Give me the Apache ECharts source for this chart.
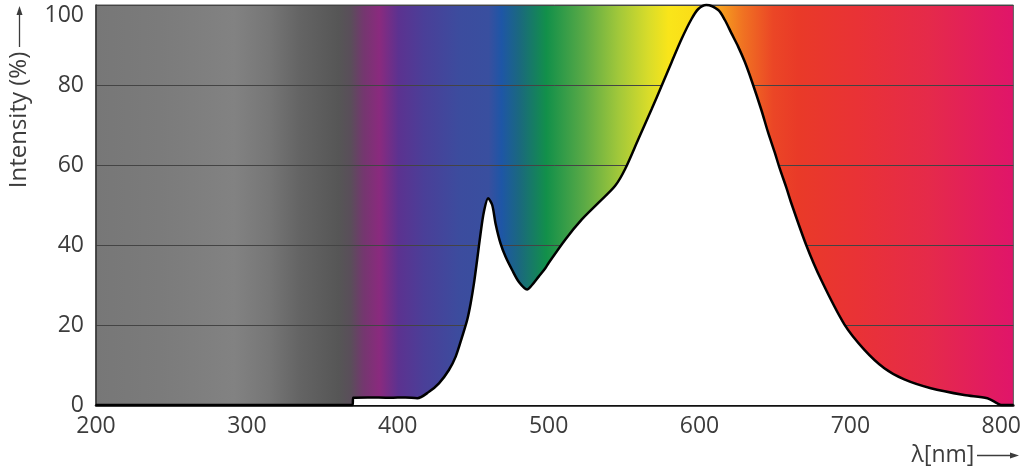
<!DOCTYPE html>
<html>
<head>
<meta charset="utf-8">
<script src="https://cdn.jsdelivr.net/npm/echarts@6/dist/echarts.min.js"></script>
<style>
html,body{margin:0;padding:0;background:#fff;}
#chart{width:1024px;height:469px;}
</style>
</head>
<body>
<div id="chart"></div>
<script>
// wavelength (nm)
const wavelengths = [200, 370, 370.5, 380, 395, 405, 413.0, 420.7, 427.3, 433.9, 438.4, 442.7, 446.0, 448.3, 450.5, 452.6, 454.9, 457.1, 459.9, 462.6, 464.8, 468.1, 471.4, 475.8, 480.2, 485.7, 489.0, 493.4, 497.8, 500.0, 511.1, 522.0, 533.1, 544.1, 550.7, 559.5, 568.3, 574.9, 581.5, 588.1, 594.7, 599.2, 604.5, 612.4, 616.8, 621.2, 625.6, 630.0, 634.4, 641.0, 645.4, 649.8, 653.1, 657.5, 660.8, 670.7, 680.6, 696.1, 709.3, 722.5, 735.7, 753.3, 775.4, 790.8, 797.4, 800, 808];
// relative intensity (%)
const intensity = [0, 0, 1.8, 1.9, 1.8, 1.9, 1.7, 3.3, 5.4, 8.75, 12.1, 17.1, 21.25, 25.4, 30.4, 36.25, 42.9, 48.3, 51.7, 50, 45.4, 40.4, 37.1, 33.75, 30.8, 28.9, 30, 32.1, 34.2, 35.5, 41.4, 46.4, 50.6, 54.8, 59, 66.5, 74, 79.8, 85.7, 91.5, 96.5, 99, 100, 98.75, 96.25, 92.9, 89.6, 85.8, 81.25, 73.75, 68.2, 63.2, 59.2, 54.4, 50.5, 40, 31.3, 20.1, 13.8, 9.2, 6.4, 4.2, 2.5, 1.7, 0.4, 0, 0];
const xTicks = [200, 300, 400, 500, 600, 700, 800];
const yTicks = [0, 20, 40, 60, 80, 100];
const yTitle = 'Intensity (%)';
const xTitle = 'λ[nm]';

const spectrumStops = [
  [0, '#777777'], [0.07, '#7b7b7b'], [0.151, '#828282'], [0.189, '#767676'],
  [0.222, '#646464'], [0.265, '#565656'], [0.278, '#5a4e5a'], [0.292, '#74376f'],
  [0.309, '#8a2a7e'], [0.330, '#5c3290'], [0.358, '#4a3f98'], [0.396, '#3c4c9e'],
  [0.428, '#394f9f'], [0.442, '#1e56a6'], [0.463, '#1a6a7c'], [0.491, '#12904a'],
  [0.532, '#5aaa46'], [0.570, '#a2c83a'], [0.602, '#d8dc2a'], [0.624, '#f9e51a'],
  [0.651, '#fadd18'], [0.678, '#f6a31e'], [0.705, '#f07222'], [0.738, '#eb4626'],
  [0.765, '#e93a28'], [0.830, '#e93236'], [0.907, '#e52a4a'], [1, '#e0156a']
];

const chart = echarts.init(document.getElementById('chart'), null, {renderer: 'canvas'});
const textColor = '#3c3c3c';
const fontFamily = "'Open Sans', sans-serif";

chart.setOption({
  animation: false,
  grid: {
    left: 96, right: 8, top: 5, bottom: 64,
    show: true,
    borderColor: '#555',
    borderWidth: 1,
    backgroundColor: {
      type: 'linear', x: 0, y: 0, x2: 1, y2: 0,
      colorStops: spectrumStops.map(s => ({offset: s[0], color: s[1]}))
    }
  },
  xAxis: {
    type: 'value',
    min: xTicks[0], max: 808, interval: 100,
    axisLine: {show: true, onZero: false, lineStyle: {color: '#111', width: 2.5}},
    axisTick: {show: false},
    splitLine: {show: false},
    axisLabel: {
      color: textColor, fontFamily, fontSize: 23, margin: 10,
      formatter: v => (xTicks.indexOf(v) >= 0 ? String(v) : '')
    }
  },
  yAxis: {
    type: 'value',
    min: yTicks[0], max: 100, interval: 20,
    axisLine: {show: true, lineStyle: {color: '#333', width: 1.5}},
    axisTick: {show: false},
    splitLine: {show: true, lineStyle: {color: '#444', width: 1}},
    axisLabel: {
      color: textColor, fontFamily, fontSize: 23, margin: 12,
      formatter: v => (v === 100 ? '{t|' + v + '}' : String(v)),
      rich: {t: {color: textColor, fontFamily, fontSize: 23, padding: [20, 0, 0, 0]}}
    }
  },
  series: [{
    type: 'line',
    data: wavelengths.map((w, i) => [w, intensity[i]]),
    showSymbol: false,
    smooth: 0.3,
    clip: false,
    lineStyle: {color: '#000', width: 2.5},
    areaStyle: {color: '#ffffff', opacity: 1},
    z: 3
  }],
  graphic: [
    {type: 'text', rotation: Math.PI / 2, x: 19, y: 120,
     style: {text: yTitle, fill: textColor, font: "24px 'Open Sans', sans-serif", align: 'center', verticalAlign: 'middle'}},
    {type: 'line', shape: {x1: 19.5, y1: 47, x2: 19.5, y2: 14}, style: {stroke: textColor, lineWidth: 1.3}},
    {type: 'polygon', shape: {points: [[19.5, 6], [16.5, 15], [22.5, 15]]}, style: {fill: textColor}},
    {type: 'text', x: 943, y: 455,
     style: {text: xTitle, fill: textColor, font: "23px 'Open Sans', sans-serif", align: 'center', verticalAlign: 'middle'}},
    {type: 'line', shape: {x1: 977, y1: 455.5, x2: 1011, y2: 455.5}, style: {stroke: textColor, lineWidth: 1.3}},
    {type: 'polygon', shape: {points: [[1019, 455.5], [1010, 452.5], [1010, 458.5]]}, style: {fill: textColor}}
  ]
});
</script>
</body>
</html>
